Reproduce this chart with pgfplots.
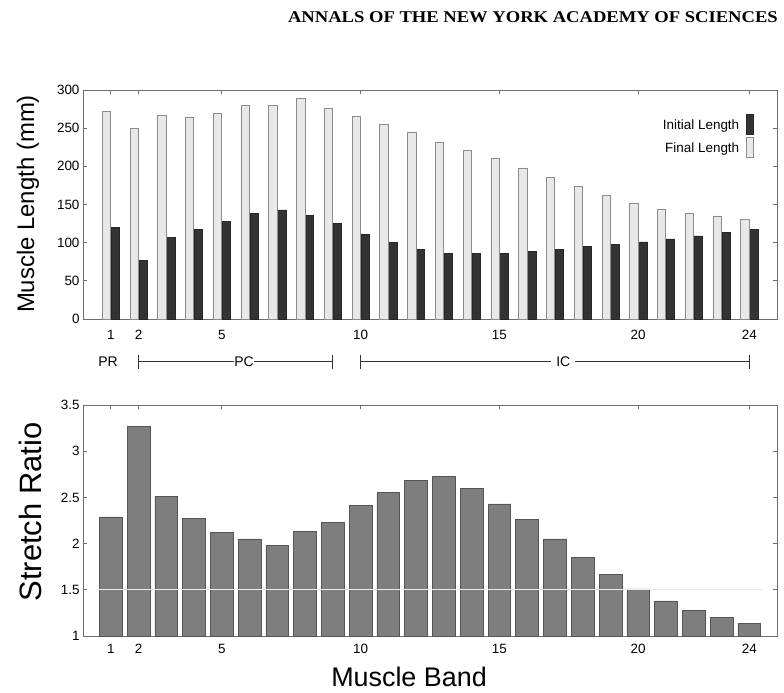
\documentclass[border=0pt]{standalone}
\usepackage{pgfplots}
\pgfplotsset{compat=1.18}
\usepackage{fontspec}
\setmainfont{Liberation Sans}
\newfontfamily\timesfont{Liberation Serif}
\definecolor{axgray}{HTML}{6E6E6E}
\definecolor{lightbar}{HTML}{E8E8E8}
\definecolor{lightedge}{HTML}{8C8C8C}
\definecolor{darkbar}{HTML}{333333}
\definecolor{midbar}{HTML}{7E7E7E}
\definecolor{midedge}{HTML}{555555}
\begin{document}
\begin{tikzpicture}[x=1bp,y=1bp]
\path (0,0) rectangle (784,-693);
\node[anchor=east, inner sep=0pt, font=\timesfont\bfseries\fontsize{16.5}{18}\selectfont] at (778,-17.5) {\scalebox{1.13}[1]{ANNALS OF THE NEW YORK ACADEMY OF SCIENCES}};
\node[rotate=90, font=\fontsize{24}{26}\selectfont] at (28,-204) {Muscle Length (mm)};
\node[rotate=90, font=\fontsize{31}{33}\selectfont] at (30,-512) {Stretch Ratio};
\node[font=\fontsize{27}{29}\selectfont] at (409,-677) {Muscle Band};

\begin{axis}[
  at={(83bp,-90bp)}, anchor=north west, scale only axis,
  width=694bp, height=229bp,
  xmin=0, xmax=25, ymin=0, ymax=300,
  xtick={1,2,5,10,15,20,24}, ytick={0,50,...,300},
  tick align=inside, major tick length=4bp,
  axis line style={axgray, line width=0.8bp},
  every tick/.style={axgray, line width=0.8bp},
  ticklabel style={font=\fontsize{13.5}{15}\selectfont},
  xticklabel style={yshift=-8bp},
  /pgf/number format/assume math mode=true,
  clip=false,
  legend style={draw=none, fill=none, at={(1,1)}, anchor=north east, xshift=-20bp, yshift=-22bp,
    font=\fontsize{13.5}{15}\selectfont, row sep=2bp},
  legend cell align=right, legend plot pos=right,
  legend image code/.code={\path (0bp,0bp); \draw[#1,/tikz/.cd] (5bp,-9bp) rectangle (12bp,11bp);},
]
\addplot[ybar, bar width=0.3, bar shift=0.16, fill=darkbar, draw=black!85, line width=0.5bp]
 coordinates {(1,120) (2,76.5) (3,107) (4,117) (5,128) (6,138.5) (7,143) (8,136) (9,125) (10,111) (11,100) (12,91) (13,86) (14,86) (15,86) (16,89) (17,91) (18,95) (19,98) (20,101) (21,105) (22,109) (23,113) (24,117)};
\addlegendentry{Initial Length}
\addplot[ybar, bar width=0.3, bar shift=-0.16, fill=lightbar, draw=lightedge, line width=0.6bp]
 coordinates {(1,272) (2,250) (3,267) (4,264) (5,269) (6,280) (7,280) (8,289) (9,276) (10,266) (11,255) (12,245) (13,232) (14,221) (15,210) (16,198) (17,186) (18,174) (19,162) (20,152) (21,144) (22,138) (23,135) (24,131)};
\addlegendentry{Final Length}
% region annotations
\draw[black!80, line width=1bp] (axis cs:2,-56) -- (axis cs:9,-56);
\draw[black!80, line width=1bp] (axis cs:2,-47) -- (axis cs:2,-65);
\draw[black!80, line width=1bp] (axis cs:9,-47) -- (axis cs:9,-65);
\draw[black!80, line width=1bp] (axis cs:10,-56) -- (axis cs:24,-56);
\draw[black!80, line width=1bp] (axis cs:10,-47) -- (axis cs:10,-65);
\draw[black!80, line width=1bp] (axis cs:24,-47) -- (axis cs:24,-65);
\node[font=\fontsize{14}{16}\selectfont, inner sep=0.5bp] at (axis cs:0.9,-56) {PR};
\node[font=\fontsize{14}{16}\selectfont, fill=white, inner sep=0.5bp] at (axis cs:5.8,-56) {PC};
\node[font=\fontsize{14}{16}\selectfont, fill=white, inner sep=5bp] at (axis cs:17.3,-56) {IC};
\end{axis}

\begin{axis}[
  at={(83bp,-405bp)}, anchor=north west, scale only axis,
  width=694bp, height=231bp,
  xmin=0, xmax=25, ymin=1, ymax=3.5,
  xtick={1,2,5,10,15,20,24}, ytick={1,1.5,2,2.5,3,3.5},
  tick align=inside, major tick length=4bp,
  axis line style={axgray, line width=0.8bp},
  every tick/.style={axgray, line width=0.8bp},
  ticklabel style={font=\fontsize{13.5}{15}\selectfont},
  xticklabel style={yshift=-5bp},
  /pgf/number format/assume math mode=true,
]
\addplot[ybar, bar width=0.82, bar shift=0, fill=midbar, draw=midedge, line width=0.6bp]
 coordinates {(1,2.29) (2,3.27) (3,2.51) (4,2.27) (5,2.12) (6,2.05) (7,1.98) (8,2.13) (9,2.23) (10,2.41) (11,2.55) (12,2.68) (13,2.73) (14,2.60) (15,2.43) (16,2.26) (17,2.05) (18,1.85) (19,1.67) (20,1.51) (21,1.38) (22,1.28) (23,1.20) (24,1.14)};
\addplot[sharp plot, no marks, color=white!92!black, line width=0.9bp] coordinates {(0.5,1.5) (24.5,1.5)};
\end{axis}
\end{tikzpicture}
\end{document}
